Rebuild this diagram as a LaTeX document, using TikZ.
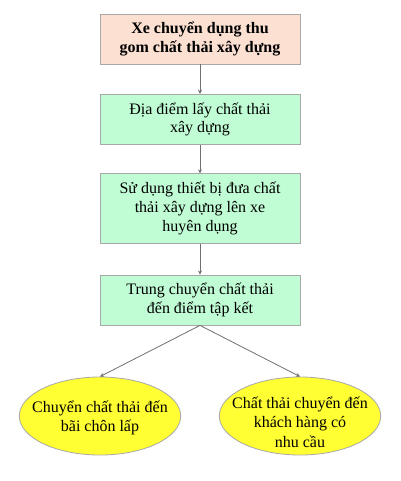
\documentclass[tikz,border=0pt]{standalone}
\usepackage{fontspec}
\setmainfont{Liberation Serif}
\usetikzlibrary{shapes.geometric,arrows.meta}
\definecolor{peach}{HTML}{FCE0D1}
\definecolor{mint}{HTML}{C0FCD4}
\definecolor{yel}{HTML}{FFFF33}
\definecolor{edge}{HTML}{A8A8A8}
\definecolor{arr}{HTML}{707070}
\tikzset{
  pbox/.style={draw=edge, line width=0.6pt, minimum width=150pt, align=center, font=\fontsize{12}{14}\selectfont, inner sep=0pt},
  topbox/.style={pbox, fill=peach, font=\fontsize{12}{14}\selectfont\bfseries},
  greenbox/.style={pbox, fill=mint},
  oval/.style={ellipse, draw=edge, line width=0.6pt, fill=yel, minimum width=121pt, minimum height=58.5pt, inner sep=0pt},
  ovaltext/.style={align=center, inner sep=0pt, font=\fontsize{12}{14.5}\selectfont},
  conn/.style={draw=arr, line width=0.6pt, -{Stealth[length=3pt,width=3pt]}}
}
\begin{document}
\begin{tikzpicture}[x=0.75pt,y=-0.75pt]
\useasboundingbox (0,0) rectangle (400,481);
\node[topbox, minimum height=37.5pt] (a) at (200,39) {Xe chuyển dụng thu\\gom chất thải xây dựng};
\node[greenbox, minimum height=38pt] (b) at (200,119.5) {Địa điểm lấy chất thải\\xây dựng};
\node[greenbox, minimum height=52pt] (c) at (200,208.5) {Sử dụng thiết bị đưa chất\\thải xây dựng lên xe\\huyên dụng};
\node[greenbox, minimum height=37.5pt] (d) at (200,300) {Trung chuyển chất thải\\đến điểm tập kết};
\node[oval] (e) at (100,416) {};
\node[ovaltext] (et) at (100,418) {Chuyển chất thải đến\\bãi chôn lấp};
\node[oval] (f) at (300,416) {};
\node[ovaltext] (ft) at (300,422) {Chất thải chuyển đến\\khách hàng có\\nhu cầu};
\draw[conn] (a) -- (b);
\draw[conn] (b) -- (c);
\draw[conn] (c) -- (d);
\draw[conn] (d.south) -- (e.north);
\draw[conn] (d.south) -- (f.north);
\end{tikzpicture}
\end{document}
